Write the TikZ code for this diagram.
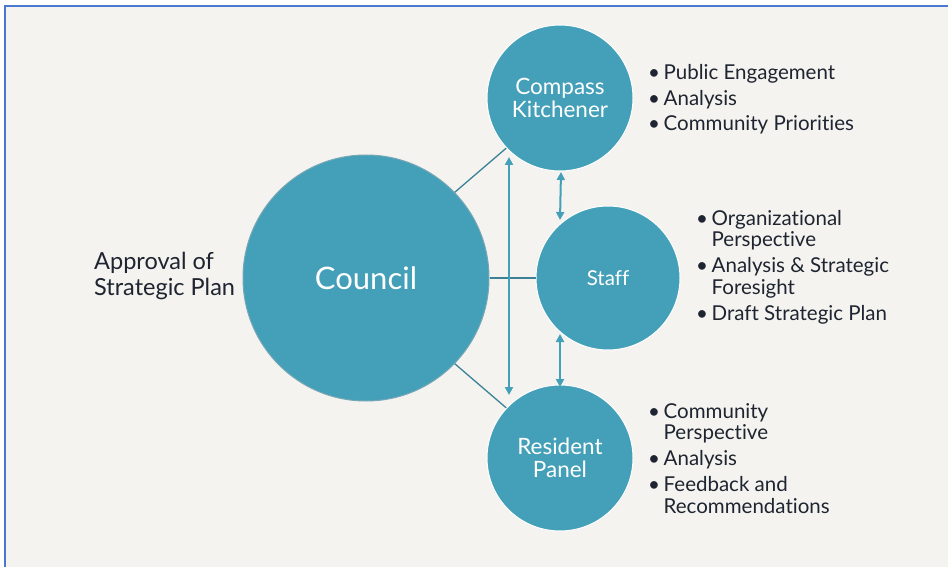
\documentclass[tikz,border=0pt]{standalone}
\usepackage{fontspec}
\setmainfont{Lato}[Ligatures={NoCommon}]
\usetikzlibrary{arrows.meta,calc}
\definecolor{bg}{HTML}{F4F3EF}
\definecolor{frameblue}{HTML}{4A78D0}
\definecolor{teal}{HTML}{44A0B8}
\definecolor{tealdark}{HTML}{3C8297}
\definecolor{txt}{HTML}{1E2430}
\newcommand{\bul}{\makebox[15.5pt][l]{\textbullet}}
\newcommand{\ind}{\hspace*{15.5pt}}
\begin{document}
\begin{tikzpicture}[x=1pt,y=-1pt,
  bubble/.style={circle,fill=teal,draw=white,line width=1pt,inner sep=0pt,text=white,align=center},
  link/.style={draw=tealdark,line width=1.3pt},
  dbl/.style={draw=teal,line width=2pt,{Triangle[length=8pt,width=8pt]}-{Triangle[length=8pt,width=8pt]}},
  blist/.style={anchor=base west,inner sep=0pt,text=txt,font=\fontsize{20.5}{21.5}\selectfont}]
\useasboundingbox (0,0) rectangle (948,567);
\fill[white] (0,0) rectangle (948,567);
\fill[bg] (5,6) rectangle (948,567);
\draw[frameblue,line width=1.5pt] (5,567) -- (5,6) -- (948,6);

\node[bubble,minimum size=246pt,draw=tealdark!70,font=\fontsize{31}{34}\selectfont] (council) at (366,278) {Council};
\node[bubble,minimum size=146pt,font=\fontsize{22.5}{23.5}\selectfont] (compass) at (560,98) {Compass\\Kitchener};
\node[bubble,minimum size=144pt,font=\fontsize{20.5}{22}\selectfont] (staff) at (608,278) {Staff};
\node[bubble,minimum size=146pt,font=\fontsize{22.5}{23.5}\selectfont] (resident) at (560,458) {Resident\\Panel};

\draw[link] (council.44) -- (compass.223);
\draw[link] (council.-44) -- (resident.137);
\draw[link] (council.east) -- (staff.west);

\coordinate (vtop) at (509,157);
\coordinate (vbot) at (509,395);
\draw[dbl] (vtop) -- (vbot);
\coordinate (a1) at (561,172);
\coordinate (a2) at (560,220);
\draw[dbl] (a1) -- (a2);
\coordinate (b1) at (560,334);
\coordinate (b2) at (560,387);
\draw[dbl] (b1) -- (b2);

\node[anchor=base west,inner sep=0pt,text=txt,font=\fontsize{23.5}{26}\selectfont] (approval) at (94,269) {\begin{tabular}[t]{@{}l@{}}Approval of\\Strategic Plan\end{tabular}};

\node[blist] (l1) at (648,80) {\begin{tabular}[t]{@{}l@{}}
\bul Public Engagement\\[3.5pt]
\bul Analysis\\[3.5pt]
\bul Community Priorities
\end{tabular}};
\node[blist] (l2) at (696,225) {\begin{tabular}[t]{@{}l@{}}
\bul Organizational\\
\ind Perspective\\[4.5pt]
\bul Analysis \& Strategic\\
\ind Foresight\\[4.5pt]
\bul Draft Strategic Plan
\end{tabular}};
\node[blist] (l3) at (648,418) {\begin{tabular}[t]{@{}l@{}}
\bul Community\\
\ind Perspective\\[4.5pt]
\bul Analysis\\[4.5pt]
\bul Feedback and\\
\ind Recommendations
\end{tabular}};
\end{tikzpicture}
\end{document}
